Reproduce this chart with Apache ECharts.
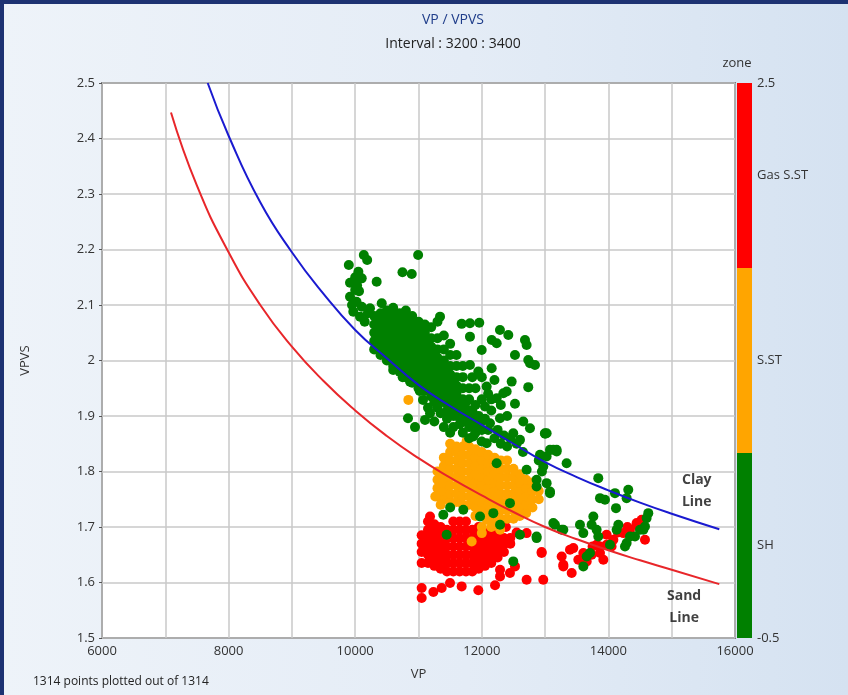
<!DOCTYPE html>
<html><head><meta charset="utf-8">
<script src="https://cdn.jsdelivr.net/npm/echarts@6/dist/echarts.min.js"></script>
<style>
html,body{margin:0;padding:0;width:848px;height:695px;overflow:hidden;}
#wrap{position:relative;width:848px;height:695px;background:linear-gradient(to right,#eef3f9 0%,#e4ecf6 55%,#d5e2f1 100%);}
#bt{position:absolute;left:0;top:0;width:848px;height:4px;background:#1d3272;}
#bl{position:absolute;left:0;top:0;width:4px;height:695px;background:#1d3272;}
#chart{position:absolute;left:0;top:0;width:848px;height:695px;}
</style></head>
<body><div id="wrap"><div id="bt"></div><div id="bl"></div><div id="chart"></div></div>
<script>
// ---- curves ----
const sandVP    = [7090, 7500, 8000, 8500, 9000, 9500, 10000, 10500, 11000, 11500, 12000, 12500, 13000, 13500, 14000, 14500, 15000, 15752];
const sandVPVS  = [2.447, 2.315, 2.195, 2.100, 2.025, 1.963, 1.910, 1.864, 1.824, 1.789, 1.757, 1.727, 1.700, 1.678, 1.658, 1.640, 1.623, 1.597];
const clayVP    = [7670, 8000, 8500, 9000, 9500, 10000, 10500, 11000, 11500, 12000, 12500, 13000, 13500, 14000, 14500, 15000, 15752];
const clayVPVS  = [2.5, 2.405, 2.285, 2.195, 2.12, 2.055, 2.004, 1.956, 1.918, 1.884, 1.850, 1.817, 1.790, 1.766, 1.744, 1.724, 1.696];

// ---- zones ----
const zoneNames  = ['SH', 'S.ST', 'Gas S.ST'];
const zoneColors = ['#008000', '#ffa500', '#ff0000'];
const vpTickLabels = [6000, 8000, 10000, 12000, 14000, 16000];

// ---- SH (green) points: dense columns [VP, [VPVS...]] ----
const shDenseCols = [
  [10300,[2.02,2.035,2.05,2.065,2.08]],
  [10400,[2.01,2.025,2.04,2.055,2.07,2.085]],
  [10500,[2.0,2.015,2.03,2.045,2.06,2.075,2.09]],
  [10600,[1.99,2.005,2.02,2.035,2.05,2.065,2.08,2.095]],
  [10700,[1.98,1.995,2.01,2.025,2.04,2.055,2.07,2.085]],
  [10800,[1.97,1.985,2.0,2.015,2.03,2.045,2.06,2.075,2.09]],
  [10900,[1.96,1.975,1.99,2.005,2.02,2.035,2.05,2.065,2.08]],
  [11000,[1.95,1.965,1.98,1.995,2.01,2.025,2.04,2.055,2.07]],
  [11100,[1.945,1.96,1.975,1.99,2.005,2.02,2.035,2.05,2.065]],
  [11200,[1.935,1.95,1.965,1.98,1.995,2.01,2.025,2.04,2.06]],
  [11300,[1.93,1.945,1.96,1.975,1.99,2.005,2.02,2.04,2.07]],
  [11400,[1.925,1.94,1.955,1.97,1.985,2.0,2.02,2.045]],
  [11500,[1.915,1.93,1.945,1.96,1.975,1.99,2.01,2.03]],
  [11600,[1.91,1.925,1.94,1.955,1.97,1.99,2.01]],
  [11700,[1.9,1.915,1.93,1.95,1.97,1.99]],
  [11800,[1.895,1.91,1.93,1.95]],
  [11900,[1.885,1.9,1.92]],
  [12000,[1.875,1.89]]
];
const shScatter = [
  [10136,2.19],[10189,2.181],[9899,2.172],[10994,2.19],[10747,2.159],[10893,2.156],[10339,2.142],[10050,2.16],
  [9918,2.14],[10000,2.127],[10103,2.148],[9918,2.115],[10021,2.106],[10103,2.097],[9970,2.088],[10234,2.094],
  [10076,2.079],[10419,2.103],[10000,2.15],[9950,2.10],[10060,2.125],[10150,2.07],[10200,2.085],[10030,2.135],
  [11340,2.079],[11682,2.066],[11960,2.068],[11813,2.043],[12287,2.055],[12419,2.046],[12156,2.037],[12235,2.031],
  [11998,2.019],[12682,2.037],[12708,2.028],[12524,2.010],[12734,2.001],[12840,1.992],[11813,1.992],[12156,1.986],
  [11945,1.98],[12472,1.962],[12734,1.952],[12393,1.944],[12077,1.953],[12235,1.932],[12524,1.922],[12050,1.917],
  [12287,1.896],[12129,1.887],[12655,1.89],[12761,1.878],[12497,1.869],[11865,1.863],[11998,1.854],[12603,1.857],
  [12998,1.869],[13130,1.839],[13024,1.827],[13340,1.815],[11813,2.067],[12761,1.995],[12340,1.941],
  [11600,1.90],[11700,1.89],[11800,1.88],[11900,1.87],[11750,1.925],[11850,1.91],[11950,1.90],[12050,1.895],
  [12150,1.91],[12250,1.875],[12100,1.875],[12350,1.865],[12200,1.86],[12300,1.85],[12400,1.845],[12450,1.86],
  [12550,1.85],[12650,1.835],[12000,1.93],[11900,1.95],[12100,1.94],[12200,1.965],[12000,1.97],[11850,1.97],
  [12300,1.92],[12400,1.9],[12150,1.93],
  [10600,1.983],[10866,1.962],[11071,1.929],[11182,1.905],[10945,1.88],[11103,1.893],[10834,1.896],[11300,1.915],
  [11450,1.895],[11550,1.88],[11020,1.945],[10750,1.97],
  [11150,1.915],[11250,1.925],[11350,1.905],[11450,1.91],[11550,1.90],[11650,1.885],[11500,1.87],[11700,1.87],
  [11800,1.86],[11250,1.89],[11400,1.88],
  [12077,1.851],[12235,1.815],[12708,1.803],[13024,1.779],[13077,1.761],[12866,1.785],[13024,1.869],[13182,1.839],
  [12445,1.743],[13130,1.707],[11972,1.719],[12182,1.725],[11708,1.731],[11392,1.722],[11445,1.686],[12288,1.704],
  [12603,1.686],[12866,1.680],[12497,1.638],[13156,1.704],[11500,1.735],[12900,1.82],[12950,1.80],
  [13000,1.868],[13077,1.839],[13183,1.836],[12919,1.83],[12971,1.809],[13077,1.764],[12866,1.773],
  [13840,1.788],[13867,1.752],[13946,1.749],[14104,1.761],[14314,1.767],[14288,1.752],[14120,1.734],[13762,1.719],
  [13735,1.704],[13551,1.704],[13814,1.695],[13262,1.695],[13604,1.689],[14157,1.704],[14130,1.695],[14604,1.716],
  [14578,1.701],[14499,1.695],[14341,1.683],[14288,1.671],[14025,1.668],[13840,1.683],[13709,1.653],[12866,1.683],
  [14420,1.683],[14262,1.665],[13657,1.647],[13604,1.629],[13288,1.695],[14630,1.725],[14552,1.695]
];

// ---- S.ST (orange) points ----
const sstDenseCols = [
  [11300,[1.755,1.77,1.785,1.80]],
  [11400,[1.75,1.765,1.78,1.795,1.81,1.825]],
  [11500,[1.745,1.76,1.775,1.79,1.805,1.82,1.835]],
  [11600,[1.745,1.76,1.775,1.79,1.805,1.82,1.835,1.845]],
  [11700,[1.74,1.755,1.77,1.785,1.80,1.815,1.83,1.845]],
  [11800,[1.74,1.755,1.77,1.785,1.80,1.815,1.83,1.845]],
  [11900,[1.735,1.75,1.765,1.78,1.795,1.81,1.825,1.84]],
  [12000,[1.73,1.745,1.76,1.775,1.79,1.805,1.82,1.835]],
  [12100,[1.725,1.74,1.755,1.77,1.785,1.80,1.815,1.83]],
  [12200,[1.72,1.735,1.75,1.765,1.78,1.795,1.81,1.825]],
  [12300,[1.715,1.73,1.745,1.76,1.775,1.79,1.805,1.82]],
  [12400,[1.715,1.73,1.745,1.76,1.775,1.79,1.805,1.82]],
  [12500,[1.715,1.73,1.745,1.76,1.775,1.79,1.805]],
  [12600,[1.72,1.735,1.75,1.765,1.78,1.795]],
  [12700,[1.725,1.74,1.755,1.77,1.785]],
  [12800,[1.735,1.75,1.765,1.78]],
  [12900,[1.75,1.765]]
];
const sstScatter = [
  [11265,1.755],[11350,1.74],[12000,1.70],[12080,1.713],[12210,1.71],[12000,1.689],[11840,1.674],
  [11900,1.72],[12150,1.70],[12290,1.695],[11760,1.855],[11500,1.85]
];
const sstOutlier = [[10840,1.929]];

// ---- Gas S.ST (red) points ----
const gasDenseCols = [
  [11050,[1.655,1.67,1.685]],
  [11150,[1.635,1.65,1.665,1.68,1.695,1.71]],
  [11250,[1.63,1.645,1.66,1.675,1.69,1.705]],
  [11350,[1.625,1.64,1.655,1.67,1.685,1.70]],
  [11450,[1.62,1.635,1.65,1.665,1.68,1.695]],
  [11550,[1.62,1.635,1.65,1.665,1.68,1.695,1.71]],
  [11650,[1.62,1.635,1.65,1.665,1.68,1.695,1.71]],
  [11750,[1.62,1.635,1.65,1.665,1.68,1.695,1.71]],
  [11850,[1.62,1.635,1.65,1.665,1.68,1.695]],
  [11950,[1.625,1.64,1.655,1.67,1.685,1.70]],
  [12050,[1.63,1.645,1.66,1.675,1.69]],
  [12150,[1.635,1.65,1.665,1.68,1.69]],
  [12250,[1.645,1.66,1.675,1.685]],
  [12350,[1.655,1.67,1.68]],
  [12450,[1.67,1.68]]
];
const gasScatter = [
  [11182,1.719],[11050,1.635],[11050,1.59],[11050,1.572],[11235,1.583],[11366,1.59],[11498,1.599],[11682,1.593],
  [11945,1.586],[12209,1.595],[12288,1.623],[12288,1.611],[12445,1.617],[12524,1.629],[12708,1.605],[12971,1.605],
  [12945,1.655],[12708,1.689],[12550,1.69],[12380,1.70],
  [12945,1.653],[13262,1.647],[13288,1.632],[13420,1.617],[13446,1.662],[13525,1.641],[13657,1.638],[13867,1.653],
  [13972,1.668],[14078,1.677],[14236,1.689],[14341,1.695],[14446,1.704],[14525,1.713],[14578,1.677],[13814,1.668],
  [13920,1.641],[13604,1.653],[13972,1.686],[14446,1.707],[13867,1.665],[13736,1.650],[13393,1.659],[13288,1.629],
  [14150,1.69],[14300,1.70],[14050,1.665],[13750,1.665]
];

const annotations = [
  {name: 'Clay\nLine', value: [15396, 1.764]},
  {name: 'Sand\nLine', value: [15196, 1.556]}
];

function flatten(cols){ const out=[]; cols.forEach(c=>c[1].forEach(v=>out.push([c[0], v]))); return out; }
function zip(a,b){ return a.map((v,i)=>[v,b[i]]); }

const FONT = '"Open Sans", "DejaVu Sans", sans-serif';
const chart = echarts.init(document.getElementById('chart'), null, {renderer:'canvas'});
const dot = (color, data, z) => ({
  type:'scatter', xAxisIndex:0, yAxisIndex:0, data, symbolSize:10, z,
  itemStyle:{color, opacity:1}, silent:true, animation:false, large:false
});

chart.setOption({
  animation:false,
  backgroundColor:'transparent',
  textStyle:{fontFamily:FONT},
  title:{
    text:'VP / VPVS', subtext:'Interval : 3200 : 3400',
    left:448, textAlign:'center', top:8, itemGap:10,
    textStyle:{fontFamily:FONT, fontSize:14, fontWeight:'normal', color:'#1f3d8a'},
    subtextStyle:{fontFamily:FONT, fontSize:14, color:'#222'}
  },
  grid:[
    {left:102, top:83, width:633, height:555, show:true, backgroundColor:'#ffffff', borderColor:'#2a2a2a', borderWidth:1.5},
    {left:737, top:83, width:15, height:555, show:false}
  ],
  xAxis:[
    {gridIndex:0, type:'value', min:6000, max:16000, interval:1000,
     name:'VP', nameLocation:'middle', nameGap:30, nameTextStyle:{fontFamily:FONT, fontSize:13, color:'#333'},
     axisLine:{show:false}, axisTick:{show:false},
     axisLabel:{fontFamily:FONT, fontSize:13, color:'#333', margin:7,
       formatter:v=> vpTickLabels.indexOf(v)>=0 ? String(v) : ''},
     splitLine:{show:true, lineStyle:{color:'#c9c9c9', width:1.5}}},
    {gridIndex:1, type:'value', min:0, max:1, show:false}
  ],
  yAxis:[
    {gridIndex:0, type:'value', min:1.5, max:2.5, interval:0.1,
     name:'VPVS', nameLocation:'middle', nameGap:70, nameRotate:90,
     nameTextStyle:{fontFamily:FONT, fontSize:13, color:'#333'},
     axisLine:{show:false}, axisTick:{show:true, length:3, lineStyle:{color:'#555'}},
     axisLabel:{fontFamily:FONT, fontSize:13, color:'#333', margin:7,
       formatter:v=> String(+(+v).toFixed(1))},
     splitLine:{show:true, lineStyle:{color:'#c9c9c9', width:1.5}}},
    {gridIndex:1, type:'value', min:-0.5, max:2.5, interval:0.5, position:'right',
     name:'zone', nameLocation:'end', nameGap:13,
     nameTextStyle:{fontFamily:FONT, fontSize:13, color:'#333', align:'center'},
     axisLine:{show:false}, axisTick:{show:false}, splitLine:{show:false},
     axisLabel:{fontFamily:FONT, fontSize:13, color:'#333', margin:5,
       formatter:v=>{
         const r = Math.round(v*10)/10;
         if (r===-0.5 || r===2.5) return String(r);
         if (Number.isInteger(r) && r>=0 && r<zoneNames.length) return zoneNames[r];
         return '';
       }}}
  ],
  graphic:[
    {type:'text', left:33, top:676, style:{text:'1314 points plotted out of 1314', font:'12px '+FONT, fill:'#222'}}
  ],
  series:[
    {type:'line', xAxisIndex:1, yAxisIndex:1, data:[[0.5,0]], symbol:'none', lineStyle:{width:0}, silent:true,
     markArea:{silent:true, data: zoneColors.map((c,i)=>[{yAxis:i-0.5, itemStyle:{color:c, opacity:1}},{yAxis:i+0.5}])}},
    dot(zoneColors[2], flatten(gasDenseCols).concat(gasScatter), 2),
    dot(zoneColors[1], flatten(sstDenseCols).concat(sstScatter), 3),
    dot(zoneColors[0], flatten(shDenseCols).concat(shScatter), 4),
    dot(zoneColors[1], sstOutlier, 5),
    {type:'line', xAxisIndex:0, yAxisIndex:0, data:zip(sandVP, sandVPVS), smooth:true, symbol:'none', z:6,
     lineStyle:{color:'#e8262a', width:2}, silent:true},
    {type:'line', xAxisIndex:0, yAxisIndex:0, data:zip(clayVP, clayVPVS), smooth:true, symbol:'none', z:6,
     lineStyle:{color:'#1a1ad0', width:2}, silent:true},
    {type:'scatter', xAxisIndex:0, yAxisIndex:0, data:annotations, symbolSize:0, z:7, silent:true,
     label:{show:true, position:'inside', formatter:'{b}', fontFamily:FONT, fontSize:14, fontWeight:'bold',
            color:'#111', lineHeight:22}}
  ]
});
</script></body></html>
